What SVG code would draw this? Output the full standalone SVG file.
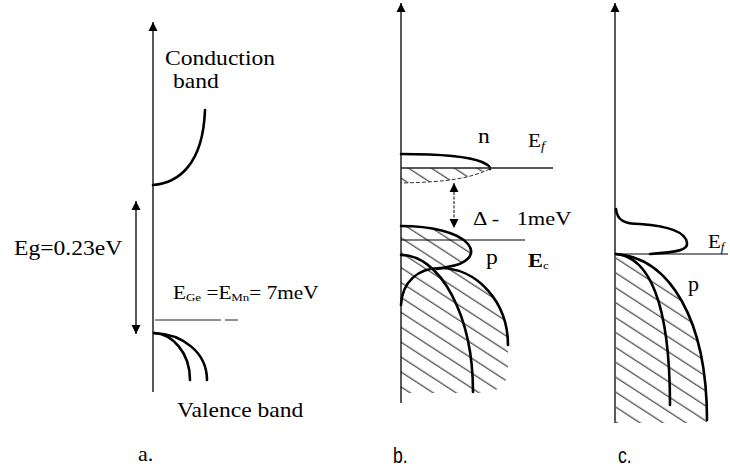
<svg xmlns="http://www.w3.org/2000/svg" width="730" height="476" viewBox="0 0 730 476">
<style>
.ax{stroke:#000;stroke-width:1.3;fill:none}
.cv{stroke:#000;stroke-width:2.6;fill:none;stroke-linecap:round}
.thin{stroke:#000;stroke-width:1;fill:none}
.t{font-family:"Liberation Serif","Times New Roman",serif;font-size:20px;fill:#000}
.s{font-family:"Liberation Sans",Arial,sans-serif;font-size:22px;fill:#000}
.hf{fill:url(#hatch);stroke:none}
</style>
<defs>
<marker id="ah" viewBox="0 0 10 10" refX="10" refY="5" markerWidth="9" markerHeight="10" markerUnits="userSpaceOnUse" orient="auto-start-reverse">
<path d="M0,0 L10,5 L0,10 Z" fill="#000"/>
</marker>
<pattern id="hatch" patternUnits="userSpaceOnUse" width="12" height="12.5" patternTransform="rotate(33)">
<line x1="-1" y1="6" x2="13" y2="6" stroke="#000" stroke-width="0.9"/>
</pattern>
</defs>

<g id="panel-a">
<line class="ax" x1="153" y1="392" x2="153" y2="22" marker-end="url(#ah)"/>
<path class="cv" d="M153,185 C178,183 203,165 205,110"/>
<path class="cv" d="M154,333 C172,334 190,352 190,380"/>
<path class="cv" d="M154,333 C182,334 207,352 207,380"/>
<path d="M155,320 L238,320" stroke="#222" stroke-width="1" stroke-dasharray="66 4 13"/>
<text class="t" transform="translate(165,65) scale(1.18,1)">Conduction</text>
<text class="t" transform="translate(173,88) scale(1.18,1)">band</text>
<text class="t" transform="translate(14,255) scale(1.18,1)">Eg=0.23eV</text>
<text class="t" style="font-size:18px" transform="translate(173,299) scale(1.18,1)">E<tspan font-size="11" dy="2">Ge</tspan><tspan dy="-2"> =E</tspan><tspan font-size="11" dy="2">Mn</tspan><tspan dy="-2">= 7meV</tspan></text>
<text class="t" transform="translate(177,417) scale(1.18,1)">Valence band</text>
<text class="t" style="font-size:22px" x="138" y="461">a.</text>
</g>

<g id="panel-b">
<path class="hf" d="M401,168 L490,168 C470,178 450,182 401,183 Z"/>
<path class="hf" d="M401,226 C430,226 458,232 468,244 C476,254 468,264 447,267 L440,268 A68,77 0 0 1 508,345 L508,378 L493,393 L401,393 Z"/>
<line class="ax" x1="401" y1="403" x2="401" y2="3" marker-end="url(#ah)"/>
<path class="cv" d="M401,154 C440,154 470,157 482,162 Q491,166 490,169"/>
<path d="M490,169 C470,178 450,182 401,183" stroke="#333" stroke-width="1" fill="none" stroke-dasharray="4 2"/>
<line x1="401" y1="168" x2="553" y2="168" stroke="#222" stroke-width="1.3"/>
<line x1="401" y1="240" x2="525" y2="240" stroke="#000" stroke-width="1.1"/>
<path class="cv" d="M401,226 C430,226 458,232 468,244 C476,254 468,264 447,267 L437,269"/>
<path class="cv" d="M401,255 A72,137 0 0 1 473,392"/>
<path class="cv" d="M401,305 C402,282 418,268 440,268 A68,77 0 0 1 508,345"/>
<text class="t" transform="translate(478,143) scale(1.18,1)">n</text>
<text class="t" style="font-size:18px" transform="translate(528,147) scale(1.18,1)">E<tspan font-size="12" font-style="italic" dy="3">f</tspan></text>
<text class="t" style="font-size:19px" transform="translate(473,225) scale(1.18,1)">Δ - <tspan dx="10">1meV</tspan></text>
<text class="t" transform="translate(486,264) scale(1.18,1)">p</text>
<text class="t" style="font-size:19px" transform="translate(528,267) scale(1.18,1)"><tspan font-weight="bold">E</tspan><tspan font-size="11" dy="2">c</tspan></text>
<text class="s" transform="translate(393,463) scale(0.8,1)">b.</text>
</g>

<g id="panel-c">
<path class="hf" d="M616,254 C670,258 707,320 707,420 L707,423 L616,423 Z"/>
<line class="ax" x1="615" y1="423" x2="615" y2="3" marker-end="url(#ah)"/>
<path class="cv" d="M616,209 C617,220 624,224 640,224 C668,226 686,232 687,243 C688,250 678,252 650,254"/>
<line x1="615" y1="254" x2="728" y2="254" stroke="#000" stroke-width="1.1"/>
<path class="cv" d="M616,254 C648,257 670,300 670,405"/>
<path class="cv" d="M616,254 C670,258 707,320 707,420"/>
<text class="t" style="font-size:19px" transform="translate(708,248) scale(1.1,1)">E<tspan font-size="12" font-style="italic" dy="3">f</tspan></text>
<text class="t" transform="translate(688,291) scale(1.1,1)">p</text>
<text class="s" transform="translate(618,463) scale(0.8,1)">c.</text>
</g>

<g id="connectors">
<line x1="136" y1="201" x2="136" y2="334" stroke="#000" stroke-width="1.3" marker-start="url(#ah)" marker-end="url(#ah)"/>
<line x1="454" y1="183" x2="454" y2="228" stroke="#000" stroke-width="1" stroke-dasharray="3 1.5" marker-start="url(#ah)" marker-end="url(#ah)"/>
</g>
</svg>
